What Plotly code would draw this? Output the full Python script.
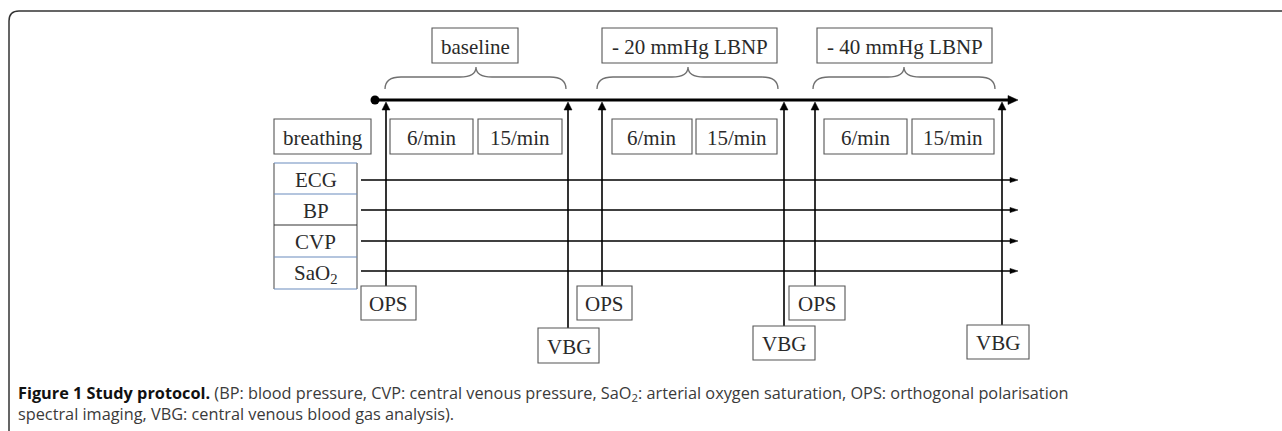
import plotly.graph_objects as go

# ---- content ----
phase_labels = ["baseline", "- 20 mmHg LBNP", "- 40 mmHg LBNP"]
breathing_label = "breathing"
breathing_rates = ["6/min", "15/min"]
signals = ["ECG", "BP", "CVP", "SaO<sub>2</sub>"]
measurements = ["OPS", "VBG", "OPS", "VBG", "OPS", "VBG"]
caption_bold = "Figure 1 Study protocol."
caption_line1 = (" (BP: blood pressure, CVP: central venous pressure, SaO<sub>2</sub>: arterial oxygen "
                 "saturation, OPS: orthogonal polarisation")
caption_line2 = "spectral imaging, VBG: central venous blood gas analysis)."

# ---- layout geometry (pixel coordinates) ----
W, H = 1282, 431
timeline_y = 100
timeline_x0, timeline_x1 = 375, 1018
phase_boxes = [(432, 518), (602, 777), (817, 992)]
phase_box_y = (28, 63)
braces = [(385, 566, 476), (597, 778, 688), (813, 995, 904)]
rate_boxes = [[(390, 473), (478, 562)], [(612, 692), (696, 777)], [(824, 907), (912, 994)]]
rate_box_y = (119, 154)
breathing_box = (274, 371)
table_x = (274, 357)
row_edges = [163, 194, 225, 257, 289]
signal_y = [180, 210, 241, 271]
signal_x0 = 361
meas_x = [386, 568, 602, 784, 815, 1002]
meas_boxes = [(361, 416, 286, 320), (538, 599, 328, 363), (577, 632, 286, 320),
              (753, 815, 326, 360), (789, 845, 286, 320), (967, 1029, 325, 359)]

SERIF = "Liberation Serif"
TXT = "#2a2a2a"
BOXC = "#555555"
BLUE = "#6a8cbd"
FS = 21

shapes = []
ann = []


def rect(x0, x1, y0, y1, color=BOXC, w=1.1):
    shapes.append(dict(type="rect", xref="x", yref="y", x0=x0, x1=x1, y0=y0, y1=y1,
                       line=dict(color=color, width=w), fillcolor="rgba(0,0,0,0)"))


def line(x0, y0, x1, y1, color="black", w=1.6):
    shapes.append(dict(type="line", xref="x", yref="y", x0=x0, y0=y0, x1=x1, y1=y1,
                       line=dict(color=color, width=w)))


def tri(path, color="black"):
    shapes.append(dict(type="path", xref="x", yref="y", path=path,
                       fillcolor=color, line=dict(color=color, width=0.5)))


def label(x, y, text, size=FS, color=TXT, font=SERIF, xanchor="center"):
    ann.append(dict(x=x, y=y, xref="x", yref="y", text=text, showarrow=False,
                    xanchor=xanchor, yanchor="middle",
                    font=dict(family=font, size=size, color=color)))


# outer rounded frame
shapes.append(dict(type="path", xref="x", yref="y",
                   path="M 9,440 L 9,21 Q 9,11 19,11 L 1290,11",
                   line=dict(color="#333333", width=1.5)))

# phase label boxes + braces
for (x0, x1), lab in zip(phase_boxes, phase_labels):
    rect(x0, x1, *phase_box_y)
    label((x0 + x1) / 2, sum(phase_box_y) / 2 + 1, lab)
for (b0, b1, bm) in braces:
    p = (f"M {b0},89 Q {b0},77 {b0+16},77 L {bm-16},77 Q {bm},77 {bm},67 "
         f"Q {bm},77 {bm+16},77 L {b1-16},77 Q {b1},77 {b1},89")
    shapes.append(dict(type="path", xref="x", yref="y", path=p,
                       line=dict(color="#707070", width=1.3)))

# main timeline
line(timeline_x0, timeline_y, timeline_x1 - 8, timeline_y, w=3.2)
tri(f"M {timeline_x1-10},{timeline_y-4.5} L {timeline_x1},{timeline_y} "
    f"L {timeline_x1-10},{timeline_y+4.5} Z")

# breathing row
rect(breathing_box[0], breathing_box[1], *rate_box_y)
label(sum(breathing_box) / 2, sum(rate_box_y) / 2 + 1, breathing_label)
for pair in rate_boxes:
    for (x0, x1), r in zip(pair, breathing_rates):
        rect(x0, x1, *rate_box_y)
        label((x0 + x1) / 2, sum(rate_box_y) / 2 + 1, r)

# signal table
line(table_x[0], row_edges[0], table_x[0], row_edges[-1], color=BOXC, w=1.1)
line(table_x[1], row_edges[0], table_x[1], row_edges[-1], color=BOXC, w=1.1)
edge_colors = [BLUE, BLUE, "#333333", BLUE, BLUE]
for ye, c in zip(row_edges, edge_colors):
    line(table_x[0], ye, table_x[1], ye, color=c, w=1.1)
for i, s in enumerate(signals):
    label(sum(table_x) / 2, (row_edges[i] + row_edges[i + 1]) / 2 + 1, s)
for sy in signal_y:
    line(signal_x0, sy, 1010, sy, w=1.5)
    tri(f"M 1010,{sy-2.6} L 1018,{sy} L 1010,{sy+2.6} Z")

# measurement verticals + boxes
for mx, (bx0, bx1, by0, by1), m in zip(meas_x, meas_boxes, measurements):
    line(mx, 108, mx, by0, w=1.6)
    tri(f"M {mx-4},{110} L {mx},{102} L {mx+4},{110} Z")
    rect(bx0, bx1, by0, by1)
    label((bx0 + bx1) / 2, (by0 + by1) / 2 + 1, m)

# caption
CAP = "Open Sans"
ann.append(dict(x=16, y=393, xref="x", yref="y", showarrow=False, xanchor="left", yanchor="middle",
                text=f"<b>{caption_bold}</b><span style='color:#3a3a3a'>{caption_line1}</span>",
                font=dict(family=CAP, size=16.3, color="#111111")))
ann.append(dict(x=16, y=414, xref="x", yref="y", showarrow=False, xanchor="left", yanchor="middle",
                text=caption_line2, font=dict(family=CAP, size=16.3, color="#3a3a3a")))

fig = go.Figure()
fig.add_trace(go.Scatter(x=[timeline_x0], y=[timeline_y], mode="markers",
                         marker=dict(color="black", size=9), hoverinfo="skip", showlegend=False))
fig.update_layout(
    width=W, height=H, margin=dict(l=0, r=0, t=0, b=0),
    paper_bgcolor="white", plot_bgcolor="white",
    xaxis=dict(range=[0, W], visible=False, fixedrange=True),
    yaxis=dict(range=[H, 0], visible=False, fixedrange=True),
    shapes=shapes, annotations=ann, showlegend=False,
)
fig.write_html("out.html", config={"displayModeBar": False},
               post_script="document.body.style.margin='0';document.body.style.overflow='hidden';")
